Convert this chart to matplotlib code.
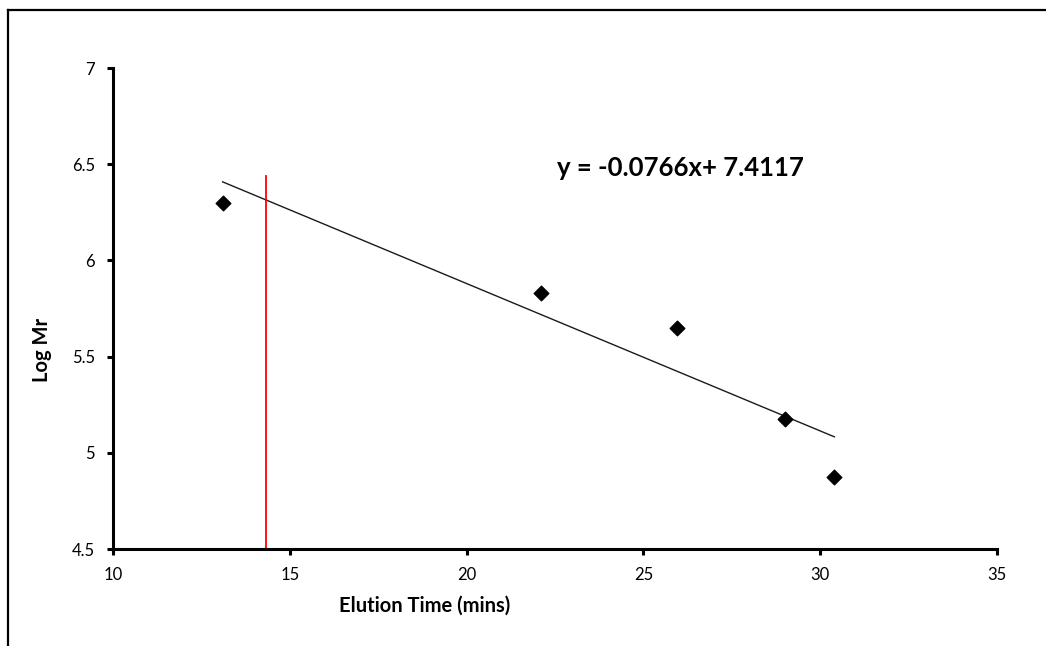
import matplotlib
matplotlib.use("Agg")
import matplotlib.pyplot as plt
from matplotlib.lines import Line2D
import numpy as np

plt.rcParams['font.family'] = ['Lato', 'DejaVu Sans']

# Calibration standards: elution time (mins) vs log Mr
elution_time = [13.1, 22.1, 25.95, 29.0, 30.4]
log_mr = [6.30, 5.83, 5.65, 5.175, 4.875]

# Linear fit reported on the chart
slope = -0.0766
intercept = 7.4117

# Elution time of the unknown sample
unknown_time = 14.33

x_ticks = [10, 15, 20, 25, 30, 35]
y_ticks = [4.5, 5, 5.5, 6, 6.5, 7]
y_tick_labels = ['4.5', '5', '5.5', '6', '6.5', '7']

fig = plt.figure(figsize=(10.46, 6.46), dpi=100)
ax = fig.add_axes([113/1046, 1 - 549/646, (997 - 113)/1046, (549 - 68)/646])

# Trendline over the range of the standards
fit_x = np.array([min(elution_time), max(elution_time)])
ax.plot(fit_x, slope * fit_x + intercept, color='#1a1a1a', lw=1.0, zorder=2)

ax.scatter(elution_time, log_mr, marker='D', s=55, color='black', zorder=3)

# Vertical marker at the unknown's elution time
ax.plot([unknown_time, unknown_time], [4.5, 6.44], color='red', lw=1.3, zorder=2)

ax.set_xlim(10, 35)
ax.set_ylim(4.5, 7)
ax.set_xticks(x_ticks)
ax.set_xticklabels([str(t) for t in x_ticks])
ax.set_yticks(y_ticks)
ax.set_yticklabels(y_tick_labels)

for side in ('top', 'right'):
    ax.spines[side].set_visible(False)
for side in ('left', 'bottom'):
    ax.spines[side].set_linewidth(2.2)
    ax.spines[side].set_color('black')

ax.tick_params(axis='x', direction='out', length=4, width=2.2, pad=9,
               labelsize=12, colors='black')
ax.tick_params(axis='y', direction='out', length=4, width=2.2, pad=9,
               labelsize=12, colors='black')

ax.text(680/1046, 1 - 168/646, 'y = -0.0766x+ 7.4117', transform=fig.transFigure,
        ha='center', va='center', fontsize=18.5, fontweight='bold')

fig.text(425/1046, 1 - 606/646, 'Elution Time (mins)', ha='center', va='center',
         fontsize=14.5, fontweight='bold')
fig.text(42/1046, 1 - 350/646, 'Log Mr', ha='center', va='center',
         fontsize=14.5, fontweight='bold', rotation=90)

# Chart area border (top and left edges)
fig.add_artist(Line2D([8/1046, 8/1046], [0, 1 - 10/646], transform=fig.transFigure,
                      color='black', lw=1.6))
fig.add_artist(Line2D([8/1046, 1], [1 - 10/646, 1 - 10/646], transform=fig.transFigure,
                      color='black', lw=1.6))

fig.savefig('out.png', dpi=100, facecolor='white')
